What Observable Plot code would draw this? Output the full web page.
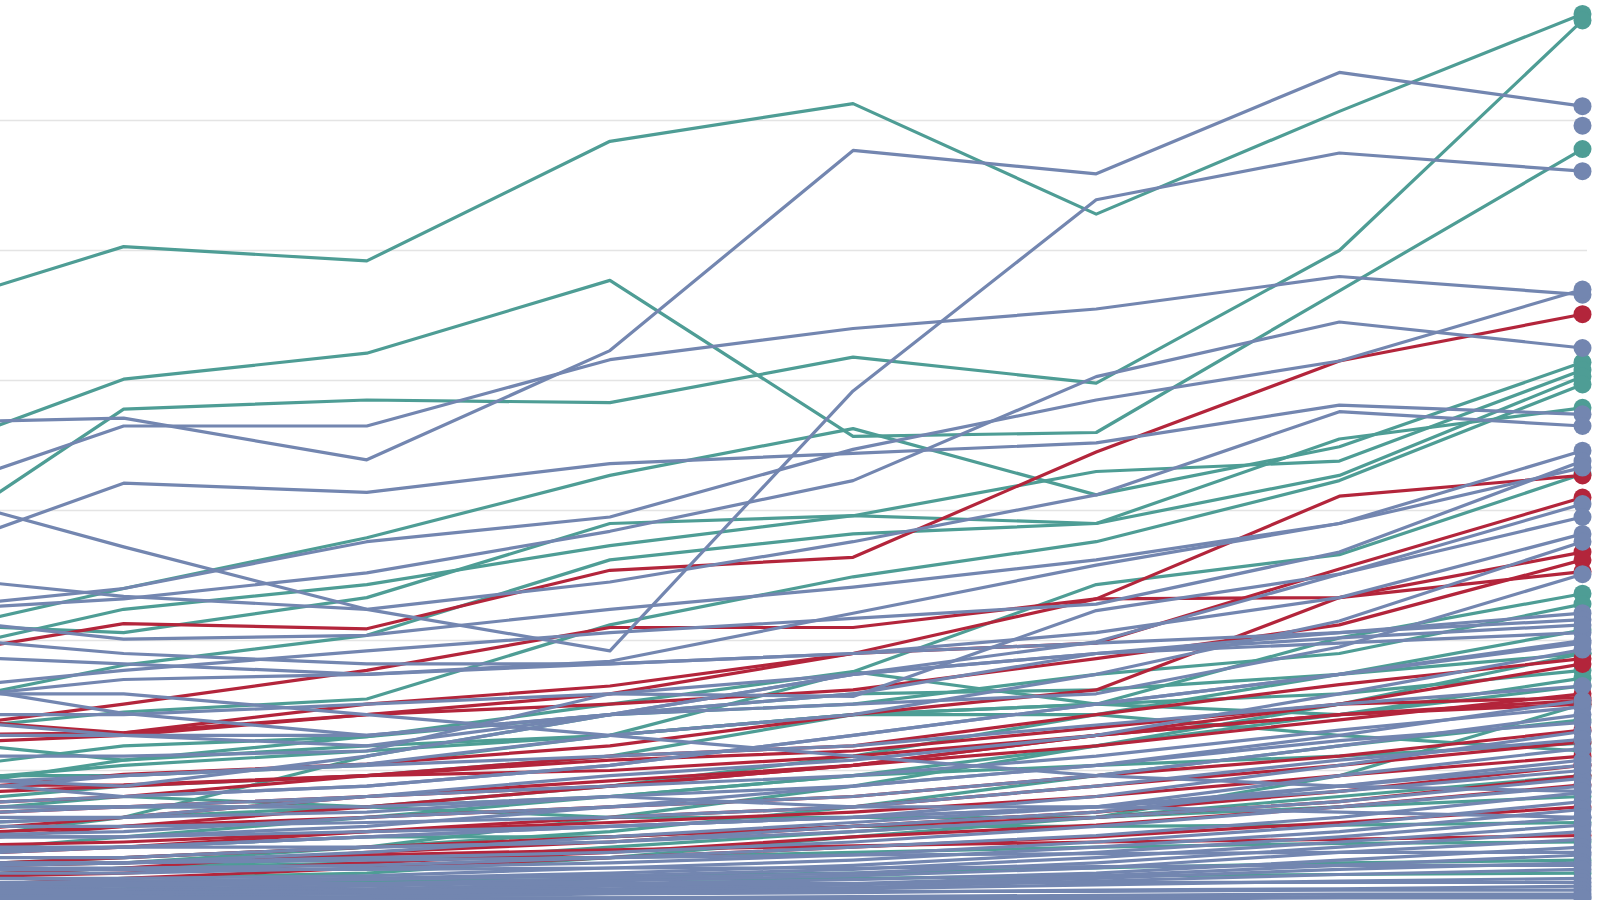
<!DOCTYPE html>
<html>
<head>
<meta charset="utf-8">
<script src="https://cdn.jsdelivr.net/npm/d3@7"></script>
<script src="https://cdn.jsdelivr.net/npm/@observablehq/plot@0.6"></script>
<style>
  html, body { margin: 0; padding: 0; background: #ffffff; }
  #chart { width: 1600px; height: 900px; overflow: hidden; }
</style>
</head>
<body>
<div id="chart"></div>
<script>
// Periods (x axis categories)
const periods = [2016, 2017, 2018, 2019, 2020, 2021, 2022, 2023];

// Group names and their colours
const groups = ["Group A", "Group B", "Group C"];
const groupColors = ["#4e9d95", "#b3253b", "#7386b0"];

// Grid values
const gridValues = [10, 20, 30, 40, 50, 60];

// Series values per group (one array per series, one value per period)
const groupASeries = [
  [44.5, 50.3, 49.2, 58.4, 61.3, 52.8, 60.7, 68.2],
  [25.3, 37.8, 38.5, 38.3, 41.8, 39.8, 50.0, 67.7],
  [33.2, 40.1, 42.1, 47.7, 35.7, 36.0, 46.9, 57.8],
  [19.8, 24.0, 27.9, 32.7, 36.3, 31.2, 34.9, 41.4],
  [18.2, 22.4, 24.3, 27.3, 29.6, 33.0, 33.8, 40.8],
  [14.3, 18.1, 20.4, 26.2, 28.2, 29.0, 32.7, 40.3],
  [12.7, 14.5, 15.5, 21.2, 24.9, 27.6, 32.3, 39.7],
  [21.4, 20.6, 23.3, 29.0, 29.6, 29.0, 35.5, 37.9],
  [9.6, 11.9, 12.6, 15.1, 17.6, 24.3, 26.6, 32.8],
  [7.2, 8.8, 9.6, 11.1, 14.3, 15.1, 20.2, 23.6],
  [8.0, 10.8, 12.6, 14.3, 15.1, 17.4, 19.0, 22.8],
  [4.1, 6.4, 7.2, 8.8, 11.1, 14.3, 17.4, 20.8],
  [9.6, 9.6, 10.4, 12.7, 14.3, 15.1, 15.9, 17.7],
  [3.3, 4.9, 6.4, 8.0, 9.6, 11.9, 14.3, 17.1],
  [2.5, 3.3, 4.1, 5.3, 7.2, 9.6, 11.9, 13.9],
  [6.4, 8.0, 7.2, 8.0, 9.6, 10.4, 11.1, 12.1],
  [1.7, 2.5, 2.9, 4.1, 5.3, 6.4, 8.0, 9.6],
  [7.2, 7.2, 7.2, 6.4, 6.4, 6.4, 7.2, 8.0],
  [3.7, 4.1, 4.9, 4.9, 5.7, 5.7, 5.8, 6.0],
  [1.7, 2.5, 3.3, 3.3, 3.7, 4.1, 4.4, 4.5],
  [0.2, 0.9, 1.7, 1.9, 2.1, 2.5, 2.9, 3.1],
  [0.9, 1.3, 1.5, 1.6, 1.7, 1.9, 2.0, 2.1],
  [0.9, 1.7, 2.1, 3.3, 4.9, 6.4, 9.6, 15.1],
  [2.5, 2.9, 4.1, 6.4, 8.8, 11.9, 15.1, 19.0],
  [12.7, 10.8, 11.9, 12.7, 14.3, 14.3, 12.7, 11.5],
  [8.8, 10.4, 11.5, 12.7, 17.6, 15.1, 14.3, 16.5],
  [5.7, 6.4, 11.1, 14.3, 15.9, 16.2, 17.4, 19.0]
];

const groupBSeries = [
  [18.2, 21.3, 20.9, 25.4, 26.4, 34.5, 41.5, 45.1],
  [12.7, 15.1, 17.7, 21.0, 21.0, 23.2, 31.1, 32.7],
  [14.3, 12.9, 15.1, 16.5, 19.0, 19.8, 25.5, 31.0],
  [8.0, 9.7, 10.5, 11.9, 14.3, 16.2, 23.3, 26.8],
  [12.7, 12.9, 14.3, 15.1, 16.2, 18.6, 21.2, 26.2],
  [7.2, 8.0, 9.6, 11.1, 11.9, 14.3, 16.6, 18.6],
  [6.4, 7.2, 8.0, 9.2, 10.4, 12.7, 15.1, 18.2],
  [4.1, 5.7, 7.2, 8.8, 10.4, 11.9, 13.9, 15.9],
  [8.8, 8.9, 9.6, 10.0, 11.1, 12.7, 14.3, 15.4],
  [4.9, 5.7, 6.4, 7.2, 8.0, 9.6, 11.1, 13.1],
  [4.1, 4.5, 5.3, 6.0, 6.8, 8.0, 9.6, 11.1],
  [2.5, 3.3, 4.1, 4.9, 5.7, 6.8, 8.4, 10.4],
  [1.7, 2.1, 2.9, 3.7, 4.9, 5.8, 7.2, 8.9],
  [0.9, 1.7, 2.5, 3.3, 4.1, 4.9, 6.0, 7.2],
  [2.5, 2.9, 3.5, 3.9, 4.2, 4.5, 4.7, 5.0],
  [11.9, 12.7, 14.3, 15.9, 19.0, 23.2, 23.3, 25.3],
  [8.0, 8.8, 9.6, 10.8, 11.5, 13.3, 15.1, 15.6],
  [4.9, 6.4, 8.0, 8.8, 10.4, 12.7, 14.3, 15.1],
  [3.3, 4.1, 5.3, 6.4, 7.2, 8.8, 10.4, 12.2],
  [1.7, 2.5, 3.7, 4.5, 5.7, 6.4, 7.6, 9.6]
];

const groupCSeries = [
  [36.7, 37.1, 33.9, 42.3, 57.7, 55.9, 63.7, 61.1],
  [30.1, 36.5, 36.5, 41.6, 44.0, 45.5, 48.0, 46.6],
  [32.3, 27.2, 22.4, 19.2, 39.2, 53.9, 57.5, 56.1],
  [null, null, null, null, null, null, null, 59.6],
  [25.4, 32.1, 31.4, 33.6, 34.4, 35.2, 38.1, 37.4],
  [22.1, 23.2, 25.2, 28.4, 32.3, 40.3, 44.5, 42.5],
  [22.1, 24.0, 27.6, 29.5, 34.7, 38.5, 41.5, 47.0],
  [25.3, 23.4, 22.4, 24.5, 27.6, 31.2, 37.6, 36.5],
  [22.1, 20.1, 20.4, 22.4, 24.1, 26.2, 29.0, 34.6],
  [15.9, 17.7, 19.2, 20.6, 21.7, 22.8, 26.8, 33.8],
  [15.1, 17.0, 17.4, 18.4, 22.1, 25.8, 29.0, 33.3],
  [17.4, 14.4, 12.7, 14.3, 17.4, 19.9, 25.1, 30.5],
  [11.1, 11.1, 11.5, 15.9, 15.7, 22.3, 25.1, 29.5],
  [20.6, 19.0, 18.2, 18.2, 19.0, 20.6, 23.3, 28.2],
  [8.8, 9.6, 10.5, 12.7, 14.3, 17.4, 21.5, 27.6],
  [12.7, 12.7, 12.7, 14.3, 15.1, 15.9, 19.5, 25.1],
  [19.0, 18.2, 17.4, 18.2, 19.0, 19.8, 20.6, 22.1],
  [14.3, 14.3, 15.1, 15.9, 17.4, 19.0, 20.6, 21.6],
  [9.6, 8.0, 8.8, 10.4, 12.7, 15.1, 17.4, 20.0],
  [5.7, 6.4, 8.0, 9.6, 10.8, 12.7, 15.9, 19.3],
  [8.0, 9.6, 10.4, 11.1, 11.9, 13.5, 15.1, 16.5],
  [7.2, 7.2, 8.0, 8.8, 9.6, 11.1, 13.1, 14.9],
  [4.9, 4.9, 5.7, 7.2, 8.0, 9.6, 11.9, 14.3],
  [6.4, 6.4, 6.8, 8.0, 8.8, 10.4, 12.3, 13.7],
  [3.3, 4.1, 4.9, 5.7, 6.4, 8.0, 10.4, 13.0],
  [5.7, 5.7, 6.0, 6.4, 7.2, 8.8, 10.8, 12.4],
  [2.5, 2.9, 3.7, 4.9, 6.0, 7.2, 9.6, 11.7],
  [3.3, 3.3, 4.1, 4.5, 5.7, 6.8, 8.8, 10.8],
  [4.9, 4.9, 5.3, 5.7, 6.4, 7.2, 8.4, 10.0],
  [4.1, 4.1, 4.1, 4.5, 5.3, 6.4, 7.6, 9.4],
  [2.9, 2.9, 3.3, 3.7, 4.5, 5.7, 7.2, 8.8],
  [2.5, 2.5, 2.7, 3.3, 4.1, 5.0, 6.4, 8.3],
  [2.1, 2.1, 2.5, 2.9, 3.5, 4.5, 5.8, 7.6],
  [1.7, 1.7, 1.9, 2.5, 3.1, 4.1, 5.3, 7.0],
  [1.3, 1.5, 1.7, 2.1, 2.7, 3.7, 4.9, 6.4],
  [1.1, 1.3, 1.6, 1.9, 2.4, 3.3, 4.5, 5.8],
  [0.9, 1.1, 1.3, 1.7, 2.1, 2.9, 4.1, 5.3],
  [0.8, 0.9, 1.1, 1.5, 1.9, 2.5, 3.7, 4.7],
  [0.7, 0.8, 0.9, 1.3, 1.6, 2.1, 3.1, 4.1],
  [2.9, 2.9, 3.1, 3.3, 3.5, 3.6, 3.7, 3.7],
  [0.5, 0.6, 0.8, 1.1, 1.3, 1.9, 2.7, 3.5],
  [0.5, 0.5, 0.7, 0.9, 1.2, 1.7, 2.4, 2.9],
  [2.4, 2.4, 2.4, 2.5, 2.5, 2.6, 2.7, 2.7],
  [0.4, 0.5, 0.5, 0.8, 1.0, 1.5, 2.0, 2.4],
  [0.3, 0.4, 0.5, 0.6, 0.9, 1.2, 1.5, 1.7],
  [1.3, 1.3, 1.3, 1.3, 1.3, 1.4, 1.4, 1.4],
  [0.2, 0.2, 0.3, 0.5, 0.6, 0.8, 0.9, 1.1],
  [0.6, 0.6, 0.7, 0.7, 0.7, 0.7, 0.8, 0.8],
  [0.0, 0.1, 0.2, 0.2, 0.3, 0.4, 0.5, 0.5],
  [0.2, 0.2, 0.2, 0.2, 0.2, 0.2, 0.3, 0.3],
  [0.0, 0.0, 0.0, 0.1, 0.1, 0.1, 0.2, 0.2],
  [15.9, 15.9, 14.3, 12.7, 11.1, 9.6, 8.8, 8.4],
  [14.3, 12.7, 11.9, 14.3, 15.9, 19.0, 19.8, 20.6],
  [9.6, 8.8, 11.1, 14.3, 17.4, 19.0, 20.2, 21.2],
  [7.2, 8.0, 8.8, 10.4, 12.7, 15.1, 17.4, 19.8],
  [4.9, 5.3, 6.4, 7.2, 8.8, 10.4, 12.7, 15.4],
  [3.7, 4.1, 4.9, 5.7, 6.4, 7.2, 8.8, 10.4],
  [6.4, 7.2, 7.2, 8.0, 7.2, 7.2, 6.8, 6.4]
];

// Build a tidy table
const seriesByGroup = [groupASeries, groupBSeries, groupCSeries];
const rows = [];
groups.forEach((g, gi) => {
  seriesByGroup[gi].forEach((vals, k) => {
    vals.forEach((v, i) => {
      if (v != null) rows.push({series: g + " #" + k, group: g, period: periods[i], value: v});
    });
  });
});
const lastPeriod = periods[periods.length - 1];
const endRows = rows.filter(d => d.period === lastPeriod);

const chart = Plot.plot({
  width: 1600,
  height: 900,
  marginTop: 0,
  marginBottom: 0,
  marginLeft: 0,
  marginRight: 13,
  style: {background: "#ffffff", overflow: "hidden"},
  x: {domain: [periods[0], lastPeriod], range: [-120, 1582], axis: null},
  y: {domain: [0, 900 / 13], range: [900, 0], axis: null},
  color: {domain: groups, range: groupColors},
  marks: [
    Plot.ruleY(gridValues, {stroke: "#e4e4e4", strokeWidth: 1.3}),
    Plot.line(rows, {x: "period", y: "value", z: "series", stroke: "group", strokeWidth: 3.2, strokeLinejoin: "round"}),
    Plot.dot(endRows, {x: "period", y: "value", fill: "group", r: 9, stroke: "none"})
  ]
});
document.getElementById("chart").appendChild(chart);
</script>
</body>
</html>
